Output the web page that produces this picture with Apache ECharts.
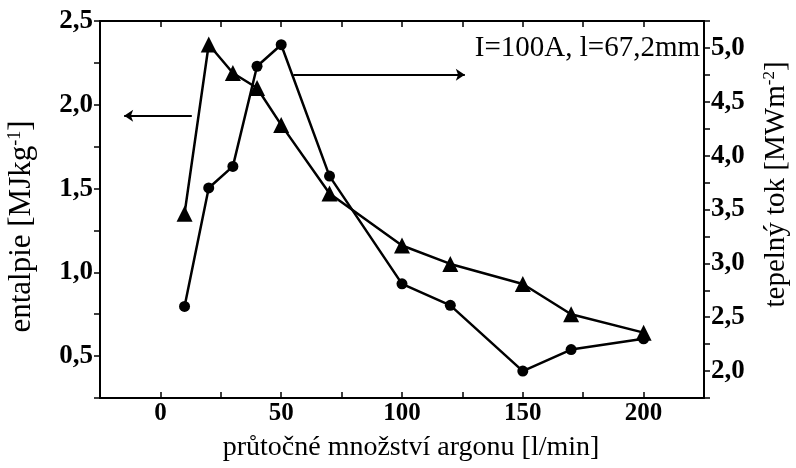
<!DOCTYPE html>
<html>
<head>
<meta charset="utf-8">
<script src="https://cdn.jsdelivr.net/npm/echarts@6/dist/echarts.min.js"></script>
<style>
  html, body { margin: 0; padding: 0; background: #fff; }
  #chart { width: 796px; height: 468px; }
</style>
</head>
<body>
<div id="chart"></div>
<script>
// průtočné množství argonu [l/min]
const flow = [10, 20, 30, 40, 50, 70, 100, 120, 150, 170, 200]
// entalpie [MJ/kg] - triangles, left axis
const enthalpy = [1.35, 2.36, 2.19, 2.10, 1.88, 1.47, 1.16, 1.05, 0.93, 0.75, 0.64]
// tepelný tok [MW/m2] - circles, right axis
const heatFlux = [2.6, 3.7, 3.9, 4.83, 5.03, 3.81, 2.81, 2.61, 2.0, 2.2, 2.3]
const xTickLabels = [0, 50, 100, 150, 200]

const serif = 'Liberation Serif'

function isHalf (v) {
  return Math.abs(v * 2 - Math.round(v * 2)) < 1e-6
}

function commaLabel (v) {
  return isHalf(v) ? v.toFixed(1).replace('.', ',') : ''
}

const chart = echarts.init(document.getElementById('chart'), null, { renderer: 'canvas' })

const axisLine = { show: true, onZero: false, lineStyle: { color: '#000', width: 2 } }
const labelStyle = { color: '#000', fontFamily: serif, fontWeight: 'bold', fontSize: 25 }
function nameStyle (size, padding) {
  return {
    color: '#000',
    fontFamily: serif,
    fontSize: size,
    padding,
    rich: {
      sup: { fontFamily: serif, fontSize: Math.round(size * 0.57), verticalAlign: 'top', padding: [0, 0, Math.round(size * 0.46), 0], color: '#000' }
    }
  }
}
const tick = { show: true, length: 6, lineStyle: { color: '#000', width: 1.5 } }

const option = {
  backgroundColor: '#fff',
  animation: false,
  title: {
    text: 'I=100A, l=67,2mm',
    right: 96,
    top: 34,
    padding: 0,
    textStyle: { color: '#000', fontFamily: serif, fontWeight: 'normal', fontSize: 29 }
  },
  grid: { left: 100, right: 92, top: 21, bottom: 70, containLabel: false, outerBoundsMode: 'none' },
  xAxis: [
    {
      type: 'value',
      min: -25,
      max: 225,
      interval: 25,
      name: 'průtočné množství argonu [l/min]',
      nameLocation: 'middle',
      nameGap: 36,
      nameTextStyle: nameStyle(28, [0, 0, 0, 18]),
      axisLine,
      axisTick: { ...tick, inside: true },
      axisLabel: {
        ...labelStyle,
        margin: 3,
        showMinLabel: false,
        showMaxLabel: false,
        formatter: v => xTickLabels.includes(v) ? String(v) : ''
      },
      splitLine: { show: false }
    },
    {
      type: 'value',
      position: 'top',
      min: -25,
      max: 225,
      interval: 25,
      axisLine,
      axisTick: { ...tick, inside: true },
      axisLabel: { show: false },
      splitLine: { show: false }
    }
  ],
  yAxis: [
    {
      type: 'value',
      position: 'left',
      min: 0.25,
      max: 2.5,
      interval: 0.25,
      name: 'entalpie [MJkg{sup|-1}]',
      nameLocation: 'middle',
      nameGap: 62,
      nameRotate: 90,
      nameTextStyle: nameStyle(31, [0, 34, 0, 0]),
      axisLine,
      axisTick: { ...tick, inside: false },
      axisLabel: { ...labelStyle, fontSize: 27, margin: 7, formatter: commaLabel },
      splitLine: { show: false }
    },
    {
      type: 'value',
      position: 'right',
      min: 1.75,
      max: 5.25,
      interval: 0.25,
      name: 'tepelný tok [MWm{sup|-2}]',
      nameLocation: 'middle',
      nameGap: 57,
      nameRotate: 90,
      nameTextStyle: nameStyle(29, [0, 0, 0, 50]),
      axisLine,
      axisTick: { ...tick, inside: false },
      axisLabel: { ...labelStyle, fontSize: 27, margin: 7, formatter: commaLabel },
      splitLine: { show: false }
    }
  ],
  series: [
    {
      name: 'entalpie',
      type: 'line',
      xAxisIndex: 0,
      yAxisIndex: 0,
      data: flow.map((x, i) => [x, enthalpy[i]]),
      symbol: 'triangle',
      symbolSize: 16,
      itemStyle: { color: '#000' },
      lineStyle: { color: '#000', width: 2.5 },
      markLine: {
        silent: true,
        symbol: ['none', 'arrow'],
        symbolSize: 9,
        lineStyle: { color: '#000', width: 2, type: 'solid' },
        label: { show: false },
        data: [[{ coord: [13, 1.935] }, { coord: [-15, 1.935] }]]
      }
    },
    {
      name: 'tepelný tok',
      type: 'line',
      xAxisIndex: 0,
      yAxisIndex: 1,
      data: flow.map((x, i) => [x, heatFlux[i]]),
      symbol: 'circle',
      symbolSize: 11,
      itemStyle: { color: '#000' },
      lineStyle: { color: '#000', width: 2.5 },
      markLine: {
        silent: true,
        symbol: ['none', 'arrow'],
        symbolSize: 9,
        lineStyle: { color: '#000', width: 2, type: 'solid' },
        label: { show: false },
        data: [[{ coord: [55, 4.75] }, { coord: [126, 4.75] }]]
      }
    }
  ]
}

chart.setOption(option)
window.addEventListener('resize', chart.resize)
</script>
</body>
</html>
